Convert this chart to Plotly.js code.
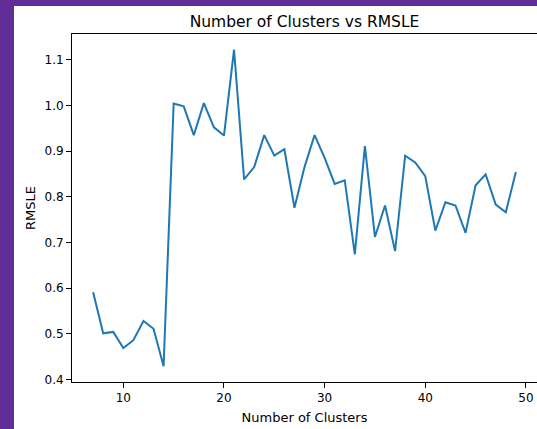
<!DOCTYPE html>
<html>
<head>
<meta charset="utf-8">
<script src="https://cdn.plot.ly/plotly-3.0.1.min.js"></script>
<style>
html, body { margin: 0; padding: 0; width: 537px; height: 429px; background: #612d97; overflow: hidden; }
#chart { position: absolute; left: 14px; top: 6px; width: 523px; height: 423px; background: #ffffff; }
</style>
</head>
<body>
<div id="chart"></div>
<script>
var clusters = [7, 8, 9, 10, 11, 12, 13, 14, 15, 16, 17, 18, 19, 20, 21, 22, 23, 24, 25, 26, 27, 28,
  29, 30, 31, 32, 33, 34, 35, 36, 37, 38, 39, 40, 41, 42, 43, 44, 45, 46, 47, 48, 49];
var rmsle = [0.591, 0.501, 0.504, 0.469, 0.486, 0.528, 0.511, 0.429, 1.004, 0.998, 0.935, 1.005,
  0.952, 0.934, 1.122, 0.838, 0.865, 0.935, 0.890, 0.904, 0.776, 0.865, 0.935, 0.885, 0.828,
  0.836, 0.674, 0.911, 0.712, 0.781, 0.681, 0.890, 0.875, 0.845, 0.726, 0.788, 0.781, 0.721,
  0.825, 0.849, 0.783, 0.766, 0.854];
var xTicks = [10, 20, 30, 40, 50];
var yTicks = [0.4, 0.5, 0.6, 0.7, 0.8, 0.9, 1.0, 1.1];
var yTickText = ['0.4', '0.5', '0.6', '0.7', '0.8', '0.9', '1.0', '1.1'];

var tickFont = {family: 'DejaVu Sans', size: 12, color: '#000000'};
var labelFont = {family: 'DejaVu Sans', size: 13, color: '#000000'};
var data = [{
  x: clusters, y: rmsle, type: 'scatter', mode: 'lines',
  line: {color: '#1f77b4', width: 2}, hoverinfo: 'skip'
}];
var layout = {
  width: 523, height: 423,
  paper_bgcolor: '#ffffff', plot_bgcolor: '#ffffff',
  margin: {l: 58, r: 0, t: 28, b: 47, pad: 0},
  showlegend: false,
  font: tickFont,
  title: {text: 'Number of Clusters vs RMSLE', font: {family: 'DejaVu Sans', size: 15.5, color: '#000000'},
    x: 0.5, xref: 'paper', xanchor: 'center', y: 0.962, yref: 'container', yanchor: 'middle'},
  xaxis: {
    range: [4.9, 51.1], tickvals: xTicks, ticktext: xTicks.map(String),
    ticks: 'outside', ticklen: 5, tickwidth: 1, tickcolor: '#000000',
    showline: true, linecolor: '#000000', linewidth: 1, mirror: true,
    showgrid: false, zeroline: false, automargin: false,
    tickfont: tickFont,
    title: {text: 'Number of Clusters', font: labelFont, standoff: 8}
  },
  yaxis: {
    range: [0.3944, 1.1564], tickvals: yTicks, ticktext: yTickText,
    ticks: 'outside', ticklen: 5, tickwidth: 1, tickcolor: '#000000',
    showline: true, linecolor: '#000000', linewidth: 1, mirror: true,
    showgrid: false, zeroline: false, automargin: false,
    tickfont: tickFont,
    title: {text: 'RMSLE', font: labelFont, standoff: 5}
  }
};
Plotly.newPlot('chart', data, layout, {staticPlot: true, displayModeBar: false});
</script>
</body>
</html>
